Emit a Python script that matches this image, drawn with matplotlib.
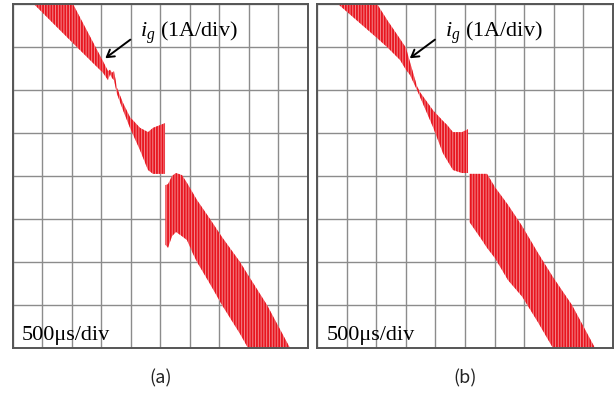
import matplotlib
matplotlib.use("Agg")
import matplotlib.pyplot as plt

plt.rcParams['mathtext.fontset'] = 'custom'
plt.rcParams['mathtext.rm'] = 'Liberation Serif'
plt.rcParams['mathtext.it'] = 'Liberation Serif:italic'
plt.rcParams['hatch.linewidth'] = 1.3

# grid current i_g, envelope of the switching ripple (time in us, current in A)
# (a) first segment, before the step
t_a1 = [293, 1021, 1410, 1529, 1614, 1648, 1681, 1715, 1766, 1868, 1986, 2156, 2291, 2376, 2579]
up_a1 = [5.91, 4.00, 2.98, 2.67, 2.44, 2.47, 2.40, 2.44, 2.05, 1.70, 1.37, 1.12, 1.02, 1.12, 1.23]
lo_a1 = [4.09, 3.09, 2.56, 2.40, 2.23, 2.37, 2.28, 2.23, 1.91, 1.53, 1.12, 0.60, 0.14, 0.05, 0.05]
# (a) second segment, after the step
t_a2 = [2587, 2630, 2697, 2765, 2867, 2951, 3053, 3121, 3341, 3544, 3849, 3984, 4306, 4695, 4864]
up_a2 = [-0.21, -0.19, 0.00, 0.07, 0.02, -0.16, -0.40, -0.56, -1.00, -1.42, -2.00, -2.30, -3.00, -4.00, -4.40]
lo_a2 = [-1.60, -1.67, -1.40, -1.30, -1.40, -1.49, -1.81, -2.00, -2.51, -3.00, -3.67, -4.00, -4.74, -5.56, -5.90]

# (b) first segment
t_b1 = [220, 355, 1014, 1199, 1402, 1503, 1571, 1689, 1740, 1959, 2128, 2196, 2297, 2449, 2551]
up_b1 = [5.65, 5.37, 4.00, 3.60, 3.19, 2.98, 2.65, 2.09, 1.95, 1.53, 1.28, 1.19, 1.02, 1.02, 1.09]
lo_b1 = [4.16, 4.00, 3.21, 2.98, 2.70, 2.47, 2.35, 2.00, 1.84, 1.14, 0.53, 0.37, 0.14, 0.07, 0.07]
# (b) second segment
t_b2 = [2576, 2787, 2872, 3007, 3226, 3463, 3733, 3986, 4307, 4696, 4865]
up_b2 = [0.05, 0.05, 0.05, -0.26, -0.67, -1.16, -1.79, -2.35, -3.00, -4.00, -4.40]
lo_b2 = [-1.07, -1.49, -1.67, -1.91, -2.42, -2.80, -3.40, -4.00, -4.70, -5.56, -5.90]

panels = [
    ("(a)", [(t_a1, up_a1, lo_a1), (t_a2, up_a2, lo_a2)]),
    ("(b)", [(t_b1, up_b1, lo_b1), (t_b2, up_b2, lo_b2)]),
]

fig = plt.figure(figsize=(6.16, 3.98), dpi=100)
boxes = [[0.0206, 0.1256, 0.4794, 0.8643], [0.5146, 0.1256, 0.4805, 0.8643]]

for (label, segs), box in zip(panels, boxes):
    ax = fig.add_axes(box)
    for t, up, lo in segs:
        ax.fill_between(t, lo, up, facecolor='#f3898e', edgecolor='#e8141e',
                        hatch='||||||', linewidth=0, zorder=2)
    ax.set_xlim(0, 5000)
    ax.set_ylim(-4, 4)
    ax.set_xticks(range(0, 5001, 500))
    ax.set_yticks(range(-4, 5))
    ax.tick_params(length=0, labelbottom=False, labelleft=False)
    ax.grid(True, color='#8c8c8c', linewidth=1.0, zorder=1)
    ax.set_axisbelow(True)
    for s in ax.spines.values():
        s.set_color('#555555')
        s.set_linewidth(1.4)

    ax.annotate("", xy=(1530, 2.70), xytext=(2030, 3.21),
                arrowprops=dict(arrowstyle='->,head_length=0.5,head_width=0.3',
                                color='black', lw=1.4), zorder=5)
    ax.text(2155, 3.23, r"$i_g$ (1A/div)", fontsize=16,
            family='Liberation Serif', va='baseline', ha='left', zorder=5)
    ax.text(158, -3.81, "500\u03bcs/div", fontsize=16,
            family='Liberation Serif', va='baseline', ha='left', zorder=5)

    fig.text(box[0] + box[2] * 0.5, 0.05, label, fontsize=13,
             family=['Noto Sans CJK KR', 'DejaVu Sans'], ha='center', va='center',
             color='#222222')

fig.savefig("out.png", dpi=100)
